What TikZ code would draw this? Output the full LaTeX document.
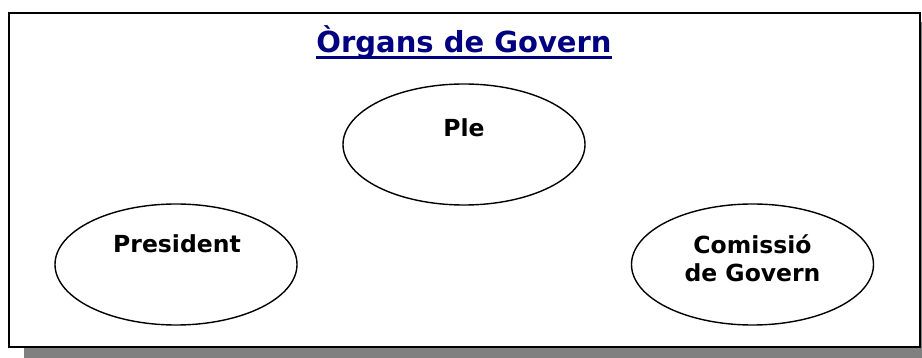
\documentclass[tikz,border=0pt]{standalone}
\usepackage{fontspec}
\setmainfont{DejaVu Sans}
\usetikzlibrary{shapes.geometric}
\definecolor{navyblue}{HTML}{000080}
\definecolor{shadowgray}{HTML}{808080}
\begin{document}
\begin{tikzpicture}[x=1pt,y=-1pt,
  organ/.style={draw=black, line width=1.4pt, ellipse, minimum width=242pt, minimum height=121pt, inner sep=0pt},
  lbl/.style={font=\fontsize{23.5}{28}\selectfont\bfseries, anchor=base, align=center, inner sep=0pt},
  ttl/.style={font=\fontsize{29}{34}\selectfont\bfseries, text=navyblue, anchor=base, inner sep=0pt},
]
\useasboundingbox (0,0) rectangle (922,358);
\fill[shadowgray] (24,22) rectangle (940,358);
\node[draw=black, line width=2pt, fill=white, minimum width=911pt, minimum height=334pt, inner sep=0pt, outer sep=0pt, anchor=north west] (frame) at (9,13) {};
\node[ttl] (title) at (464,52.7) {Òrgans de Govern};
\draw[navyblue, line width=2.4pt] ([yshift=-5pt]title.base west) -- ([yshift=-5pt]title.base east);
\node[organ] (ple) at (464,144.5) {};
\node[organ] (pres) at (176,264.5) {};
\node[organ] (com) at (752.5,264.5) {};
\node[lbl] (pletxt) at (464,137) {Ple};
\node[lbl] (prestxt) at (177,253) {President};
\node[lbl] (comtxt) at (752.5,282) {Comissió\\de Govern};
\end{tikzpicture}
\end{document}
